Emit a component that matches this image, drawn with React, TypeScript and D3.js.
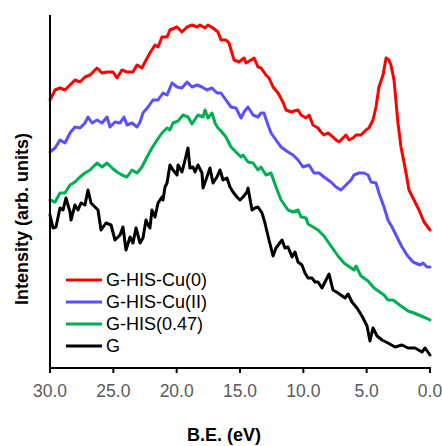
import * as d3 from 'd3'

// binding energy (eV), intensity (arb. units)
const redBE = [30.0, 29.6, 29.21, 28.82, 28.42, 28.03, 27.63, 27.24, 26.84, 26.29, 25.89, 25.5, 25.03, 24.71, 24.32, 23.92, 23.45, 23.13, 22.74, 22.5, 22.11, 21.71, 21.47, 21.16, 20.76, 20.53, 19.97, 19.58, 19.18, 18.79, 18.39, 18.16, 17.76, 17.53, 17.13, 16.74, 16.5, 16.11, 15.87, 15.47, 15.08, 14.68, 14.53, 14.13, 13.89, 13.58, 13.34, 12.95, 12.71, 12.39, 12.0, 11.61, 11.37, 10.97, 10.42, 10.18, 9.79, 9.55, 9.24, 8.84, 8.61, 8.37, 8.05, 7.66, 7.42, 7.18, 6.87, 6.63, 6.39, 6.08, 5.84, 5.45, 5.05, 4.82, 4.5, 4.26, 4.03, 3.71, 3.47, 3.24, 3.08, 2.84, 2.53, 2.29, 1.89, 1.66, 1.26, 0.87, 0.47, 0.0]
const redI = [268, 278, 280, 278, 283, 288, 286, 291, 293, 300, 295, 296, 296, 290, 298, 296, 296, 303, 300, 306, 315, 323, 321, 331, 331, 338, 341, 336, 341, 343, 341, 343, 340, 343, 340, 336, 328, 328, 325, 308, 306, 310, 305, 308, 310, 301, 300, 293, 290, 281, 275, 266, 258, 256, 258, 253, 250, 253, 243, 240, 236, 233, 235, 231, 228, 226, 230, 233, 228, 230, 233, 233, 238, 240, 248, 261, 281, 293, 310, 308, 303, 288, 245, 221, 195, 178, 168, 158, 146, 138]

const blueBE = [30.0, 29.6, 29.21, 28.82, 28.42, 28.03, 27.63, 27.24, 27.0, 26.68, 26.29, 25.89, 25.5, 25.26, 24.87, 24.47, 24.16, 23.92, 23.53, 23.13, 22.89, 22.66, 22.26, 21.87, 21.47, 21.08, 20.76, 20.37, 19.97, 19.58, 19.18, 18.79, 18.39, 18.0, 17.61, 17.21, 16.82, 16.5, 16.11, 15.71, 15.32, 14.92, 14.68, 14.37, 13.97, 13.58, 13.34, 13.11, 12.79, 12.55, 12.16, 11.76, 11.21, 10.82, 10.42, 10.03, 9.55, 9.16, 8.76, 8.37, 7.82, 7.42, 7.03, 6.63, 6.24, 6.0, 5.61, 5.21, 4.89, 4.66, 4.26, 4.03, 3.63, 3.32, 3.0, 2.61, 2.21, 1.82, 1.34, 0.79, 0.55, 0.24, 0.0]
const blueI = [216, 220, 228, 225, 235, 241, 240, 245, 251, 245, 248, 245, 251, 241, 246, 245, 251, 243, 245, 241, 246, 255, 261, 268, 268, 275, 273, 285, 281, 280, 286, 281, 283, 281, 278, 280, 275, 275, 268, 261, 260, 250, 256, 261, 253, 251, 255, 255, 243, 235, 228, 221, 216, 213, 208, 201, 203, 195, 195, 191, 186, 181, 178, 183, 188, 193, 195, 195, 193, 186, 185, 175, 161, 148, 141, 131, 121, 113, 106, 103, 105, 101, 101]

const greenBE = [30.0, 29.6, 29.21, 28.82, 28.42, 28.03, 27.63, 27.24, 26.84, 26.29, 25.89, 25.5, 25.1, 24.71, 24.32, 23.92, 23.53, 23.13, 22.74, 22.34, 21.95, 21.55, 21.16, 20.76, 20.53, 20.29, 19.89, 19.5, 19.1, 18.79, 18.32, 17.92, 17.76, 17.53, 17.21, 16.97, 16.74, 16.5, 16.11, 15.71, 15.32, 14.92, 14.76, 14.37, 13.97, 13.58, 13.34, 12.95, 12.55, 12.16, 11.76, 11.21, 10.82, 10.42, 10.18, 9.79, 9.63, 8.84, 8.37, 7.82, 7.26, 6.79, 6.0, 5.84, 5.45, 4.89, 4.42, 3.63, 3.32, 2.92, 2.29, 1.74, 1.26, 0.71, 0.32, 0.0]
const greenI = [168, 166, 175, 175, 183, 186, 191, 195, 198, 205, 201, 205, 200, 196, 193, 191, 198, 195, 201, 211, 220, 228, 235, 240, 238, 245, 247, 253, 251, 244, 253, 251, 258, 250, 255, 245, 240, 237, 231, 221, 216, 211, 213, 206, 205, 198, 201, 193, 195, 181, 168, 158, 156, 158, 151, 150, 144, 138, 132, 122, 112, 105, 98, 102, 92, 87, 80, 73, 68, 68, 62, 57, 55, 52, 50, 48]

const blackBE = [30.0, 29.76, 29.53, 29.21, 28.97, 28.74, 28.42, 28.34, 28.03, 27.79, 27.55, 27.24, 27.0, 26.76, 26.45, 26.21, 25.97, 25.58, 25.18, 24.87, 24.47, 24.24, 24.0, 23.68, 23.45, 23.21, 22.89, 22.66, 22.42, 22.26, 22.11, 21.95, 21.71, 21.47, 21.16, 21.08, 20.92, 20.76, 20.53, 20.29, 19.97, 19.89, 19.58, 19.34, 19.11, 18.95, 18.71, 18.55, 18.32, 18.0, 17.92, 17.61, 17.37, 17.13, 16.82, 16.58, 16.34, 16.03, 15.79, 15.55, 15.24, 15.0, 14.76, 14.45, 14.37, 14.05, 13.82, 13.58, 13.26, 13.03, 12.71, 12.39, 12.16, 11.68, 11.45, 11.21, 10.89, 10.66, 10.42, 10.11, 9.87, 9.63, 9.32, 9.08, 8.84, 8.53, 8.13, 7.97, 7.66, 7.26, 6.71, 6.47, 6.16, 5.76, 5.37, 4.97, 4.74, 4.5, 4.18, 3.79, 3.32, 2.76, 2.21, 1.74, 1.18, 0.63, 0.39, 0.0]
const blackI = [153, 140, 141, 160, 158, 170, 156, 148, 163, 158, 165, 163, 178, 165, 161, 158, 138, 145, 143, 128, 133, 141, 118, 131, 125, 140, 125, 130, 148, 143, 140, 158, 151, 165, 171, 168, 181, 185, 203, 198, 193, 203, 196, 208, 220, 200, 201, 196, 203, 195, 180, 191, 200, 185, 191, 198, 188, 190, 181, 176, 171, 168, 171, 176, 180, 158, 160, 161, 155, 145, 128, 112, 120, 128, 120, 121, 111, 116, 106, 103, 95, 90, 90, 86, 86, 80, 90, 94, 78, 75, 70, 74, 66, 60, 52, 42, 27, 40, 32, 28, 25, 21, 23, 20, 20, 16, 20, 13]

const seriesNames = ['G-HIS-Cu(0)', 'G-HIS-Cu(II)', 'G-HIS(0.47)', 'G']
const seriesColors = ['#ff0000', '#5b50ff', '#00b050', '#000000']
const xTicks = [30, 25, 20, 15, 10, 5, 0]

const width = 442,
      height = 446,
      margin = { top: 15, right: 12, bottom: 78, left: 50 }

const xScale = d3.scaleLinear().domain([30, 0]).range([margin.left, width - margin.right])
const yScale = d3.scaleLinear().domain([0, 353]).range([height - margin.bottom, margin.top])

const zip = (xs: number[], ys: number[]) => xs.map((x, i) => [x, ys[i]] as [number, number])
const series = [zip(redBE, redI), zip(blueBE, blueI), zip(greenBE, greenI), zip(blackBE, blackI)]

const lineGen = d3.line<[number, number]>()
  .x(d => xScale(d[0]))
  .y(d => yScale(d[1]))

const font = 'Arial, "Liberation Sans", sans-serif'

export default function App() {
  const y0 = yScale(0)
  return (
    <svg width={width} height={height} style={{ position: 'absolute', left: 0, top: 0, background: '#fff' }}>
      <g className='lines'>
        {series.map((s, i) => (
          <path key={seriesNames[i]} d={lineGen(s) || ''} fill='none' stroke={seriesColors[i]}
            strokeWidth={3} strokeLinejoin='round' strokeLinecap='round' />
        ))}
      </g>

      <g className='axis left'>
        <line x1={xScale(30)} x2={xScale(30)} y1={margin.top} y2={y0} stroke='black' strokeWidth={2} />
      </g>

      <g className='axis bottom'>
        <line x1={xScale(30) - 1} x2={xScale(0) + 1} y1={y0} y2={y0} stroke='black' strokeWidth={2} />
        {xTicks.map(t => (
          <g key={t} transform={`translate(${xScale(t)}, ${y0})`}>
            <line y2={5} stroke='black' strokeWidth={2} />
            <text y={29} textAnchor='middle' fill='#595959' fontSize={17.5} fontFamily={font}>{t.toFixed(1)}</text>
          </g>
        ))}
      </g>

      <text x={224} y={441} textAnchor='middle' fontWeight='bold' fontSize={18} fontFamily={font}>B.E. (eV)</text>
      <text transform='translate(28, 219) rotate(-90)' textAnchor='middle' fontWeight='bold' fontSize={18} fontFamily={font}>Intensity (arb. units)</text>

      <g className='legend'>
        {seriesNames.map((n, i) => (
          <g key={n} transform={`translate(66, ${280 + i * 22})`}>
            <line x1={0} x2={36} stroke={seriesColors[i]} strokeWidth={3} />
            <text x={40} dy='0.35em' fontSize={18} fontFamily={font}>{n}</text>
          </g>
        ))}
      </g>
    </svg>
  )
}
